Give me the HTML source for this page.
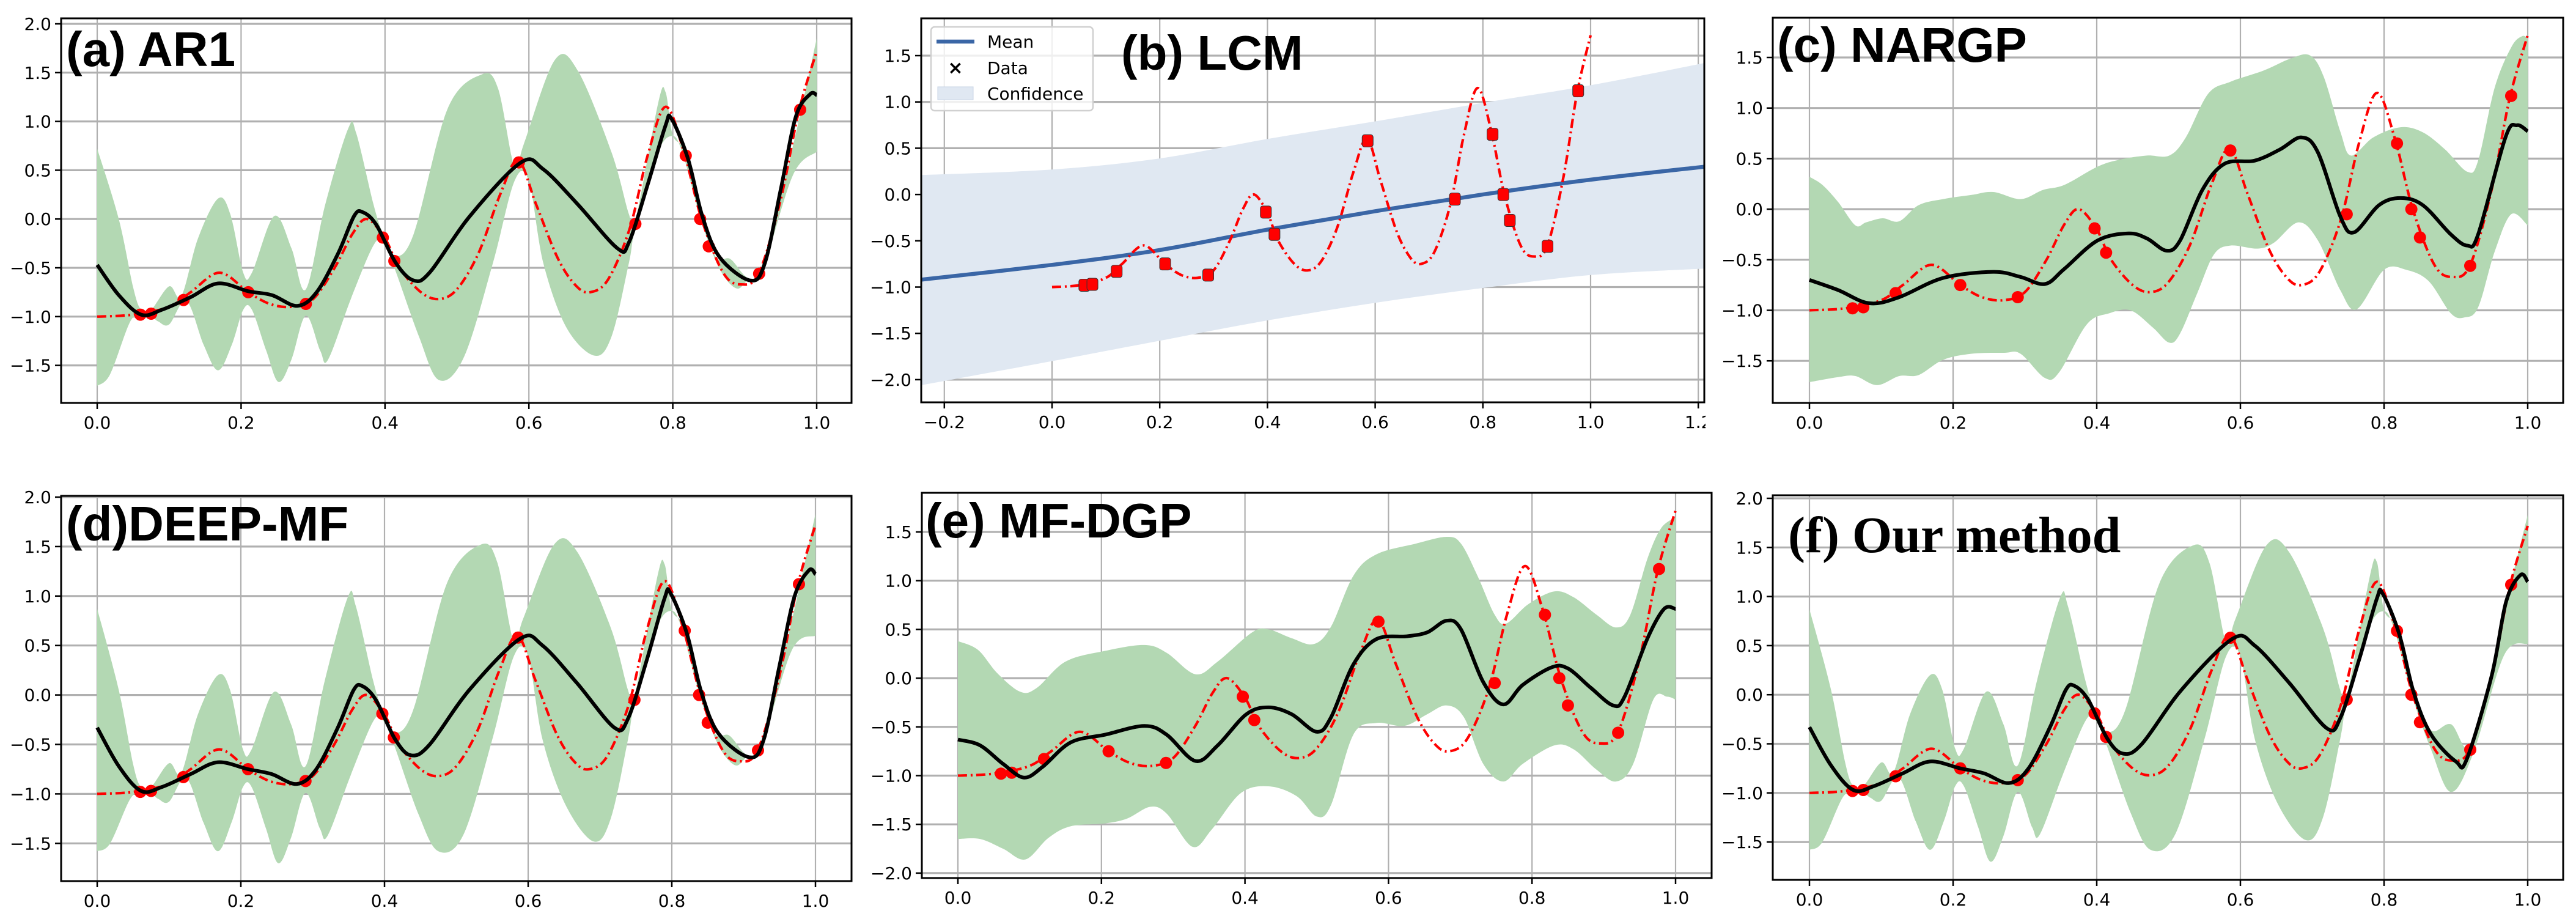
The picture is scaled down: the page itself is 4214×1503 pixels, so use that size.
<!DOCTYPE html>
<html><head><meta charset="utf-8"><style>
html,body{margin:0;padding:0;background:#fff;}
svg{display:block;}
text{font-family:"DejaVu Sans","Liberation Sans",sans-serif;}
</style></head><body>
<svg id="fig" width="4214" height="1503" viewBox="0 0 4214 1503" xmlns="http://www.w3.org/2000/svg"></svg>
<script>
// ---------- shared data ----------
const trueCurve = [[0,-1.0],[0.05,-0.98],[0.1,-0.9],[0.13,-0.75],[0.17,-0.55],[0.21,-0.75],[0.24,-0.87],[0.27,-0.9],[0.3,-0.82],[0.33,-0.5],[0.355,-0.15],[0.375,0.0],[0.4,-0.2],[0.42,-0.5],[0.45,-0.75],[0.475,-0.82],[0.5,-0.72],[0.53,-0.35],[0.56,0.25],[0.585,0.6],[0.61,0.15],[0.64,-0.4],[0.665,-0.68],[0.685,-0.75],[0.71,-0.62],[0.74,-0.1],[0.765,0.65],[0.79,1.15],[0.815,0.7],[0.84,0.0],[0.87,-0.55],[0.895,-0.67],[0.92,-0.55],[0.95,0.2],[0.975,1.1],[1.0,1.72]];
const dataX = [0.06,0.075,0.12,0.21,0.29,0.397,0.413,0.586,0.748,0.818,0.838,0.85,0.92,0.977];
const dataY = [-0.98,-0.97,-0.83,-0.75,-0.87,-0.19,-0.43,0.58,-0.05,0.65,0.0,-0.28,-0.56,1.12];
const xTicks01 = [0,0.2,0.4,0.6,0.8,1.0];
const xTickLabels01 = ["0.0","0.2","0.4","0.6","0.8","1.0"];
const xTicksB = [-0.2,0,0.2,0.4,0.6,0.8,1.0,1.2];
const xTickLabelsB = ["−0.2","0.0","0.2","0.4","0.6","0.8","1.0","1.2"];
const yTicksA = [2.0,1.5,1.0,0.5,0.0,-0.5,-1.0,-1.5];
const yTickLabelsA = ["2.0","1.5","1.0","0.5","0.0","−0.5","−1.0","−1.5"];
const yTicksB = [1.5,1.0,0.5,0.0,-0.5,-1.0,-1.5,-2.0];
const yTickLabelsB = ["1.5","1.0","0.5","0.0","−0.5","−1.0","−1.5","−2.0"];
const yTicksC = [1.5,1.0,0.5,0.0,-0.5,-1.0,-1.5];
const yTickLabelsC = ["1.5","1.0","0.5","0.0","−0.5","−1.0","−1.5"];

// ---------- panel (a) AR1 ----------
const aMean = [[0,-0.47],[0.03,-0.78],[0.061,-0.98],[0.09,-0.93],[0.13,-0.8],[0.168,-0.66],[0.21,-0.74],[0.243,-0.78],[0.278,-0.89],[0.305,-0.75],[0.335,-0.35],[0.357,0.03],[0.369,0.07],[0.388,-0.06],[0.415,-0.45],[0.44,-0.63],[0.463,-0.54],[0.518,0.03],[0.589,0.58],[0.62,0.51],[0.668,0.15],[0.723,-0.30],[0.739,-0.24],[0.765,0.35],[0.79,0.96],[0.798,1.03],[0.821,0.62],[0.841,0.03],[0.865,-0.39],[0.908,-0.63],[0.928,-0.45],[0.95,0.3],[0.971,1.05],[0.991,1.28],[1.0,1.27]];
const aUpper = [[0,0.72],[0.03,0.0],[0.05,-0.7],[0.061,-0.93],[0.075,-0.93],[0.10,-0.69],[0.117,-0.79],[0.14,-0.2],[0.168,0.21],[0.185,0.05],[0.203,-0.55],[0.215,-0.55],[0.246,0.03],[0.27,-0.30],[0.29,-0.72],[0.317,0.15],[0.349,0.93],[0.36,0.88],[0.384,0.15],[0.397,-0.15],[0.413,-0.38],[0.44,-0.15],[0.487,1.13],[0.534,1.48],[0.557,1.34],[0.58,0.53],[0.593,0.77],[0.636,1.63],[0.668,1.52],[0.715,0.68],[0.739,0.05],[0.748,-0.02],[0.78,1.2],[0.79,1.30],[0.80,0.86],[0.818,0.68],[0.84,0.03],[0.86,-0.39],[0.88,-0.41],[0.904,-0.6],[0.924,-0.51],[0.967,0.75],[1.0,1.85]];
const aLower = [[0,-1.71],[0.018,-1.59],[0.046,-1.05],[0.061,-1.0],[0.075,-1.0],[0.085,-1.05],[0.10,-1.08],[0.124,-0.84],[0.148,-1.29],[0.168,-1.55],[0.187,-1.29],[0.203,-0.93],[0.215,-0.93],[0.235,-1.35],[0.252,-1.67],[0.27,-1.44],[0.29,-0.99],[0.31,-1.35],[0.321,-1.44],[0.353,-0.81],[0.384,-0.27],[0.397,-0.25],[0.413,-0.5],[0.447,-1.2],[0.475,-1.65],[0.51,-1.41],[0.55,-0.45],[0.58,0.39],[0.60,0.39],[0.62,-0.45],[0.652,-1.11],[0.691,-1.40],[0.715,-1.20],[0.739,-0.45],[0.748,-0.09],[0.778,0.66],[0.798,0.85],[0.813,0.69],[0.84,-0.03],[0.865,-0.51],[0.888,-0.71],[0.904,-0.63],[0.924,-0.54],[0.967,0.45],[1.0,0.69]];

// ---------- panel (b) LCM ----------
const bMean = [[-0.243,-0.92],[0,-0.76],[0.2,-0.60],[0.4,-0.38],[0.6,-0.18],[0.8,0.0],[1.0,0.16],[1.211,0.30]];
const bUpper = [[-0.243,0.21],[0,0.27],[0.2,0.39],[0.4,0.60],[0.6,0.79],[0.8,0.99],[1.0,1.18],[1.211,1.42]];
const bLower = [[-0.243,-2.06],[0,-1.80],[0.2,-1.58],[0.4,-1.36],[0.6,-1.17],[0.8,-1.01],[1.0,-0.87],[1.211,-0.80]];

// ---------- panel (c) NARGP ----------
const cMean = [[0,-0.70],[0.04,-0.80],[0.083,-0.93],[0.125,-0.87],[0.186,-0.68],[0.256,-0.62],[0.294,-0.67],[0.328,-0.74],[0.355,-0.59],[0.401,-0.31],[0.444,-0.24],[0.47,-0.29],[0.497,-0.41],[0.516,-0.31],[0.547,0.19],[0.578,0.45],[0.62,0.48],[0.655,0.59],[0.685,0.71],[0.708,0.56],[0.739,-0.07],[0.758,-0.23],[0.793,0.04],[0.823,0.11],[0.854,0.04],[0.893,-0.25],[0.916,-0.36],[0.931,-0.25],[0.969,0.71],[0.985,0.83],[1.0,0.77]];
const cUpper = [[0,0.32],[0.018,0.24],[0.04,0.07],[0.064,-0.16],[0.079,-0.13],[0.102,-0.09],[0.125,-0.12],[0.152,0.04],[0.186,0.10],[0.225,0.14],[0.256,0.17],[0.294,0.10],[0.325,0.19],[0.355,0.24],[0.401,0.42],[0.432,0.49],[0.47,0.53],[0.501,0.53],[0.524,0.71],[0.555,1.14],[0.586,1.26],[0.632,1.37],[0.67,1.49],[0.697,1.52],[0.716,1.31],[0.739,0.77],[0.754,0.53],[0.785,0.71],[0.823,0.81],[0.854,0.76],[0.885,0.59],[0.916,0.37],[0.931,0.48],[0.954,1.2],[0.977,1.6],[0.992,1.71],[1.0,1.69]];
const cLower = [[0,-1.71],[0.04,-1.66],[0.064,-1.65],[0.094,-1.74],[0.125,-1.65],[0.152,-1.64],[0.186,-1.49],[0.225,-1.43],[0.271,-1.42],[0.294,-1.43],[0.328,-1.67],[0.348,-1.61],[0.386,-1.14],[0.417,-1.03],[0.447,-1.0],[0.478,-1.17],[0.501,-1.32],[0.516,-1.23],[0.54,-0.83],[0.563,-0.45],[0.586,-0.36],[0.624,-0.39],[0.647,-0.33],[0.681,-0.13],[0.708,-0.31],[0.739,-0.80],[0.762,-0.99],[0.8,-0.60],[0.831,-0.60],[0.862,-0.71],[0.893,-1.03],[0.912,-1.07],[0.931,-0.97],[0.954,-0.42],[0.977,-0.05],[1.0,-0.16]];

// ---------- panel (d) DEEP-MF ----------
const dMean = [[0,-0.33],[0.03,-0.72],[0.061,-0.97],[0.09,-0.93],[0.13,-0.8],[0.168,-0.68],[0.21,-0.75],[0.243,-0.8],[0.278,-0.9],[0.305,-0.75],[0.335,-0.33],[0.357,0.05],[0.369,0.09],[0.388,-0.05],[0.415,-0.45],[0.437,-0.61],[0.463,-0.5],[0.518,0.05],[0.589,0.57],[0.62,0.5],[0.668,0.12],[0.72,-0.33],[0.739,-0.24],[0.765,0.35],[0.79,0.98],[0.798,1.03],[0.821,0.62],[0.841,0.03],[0.865,-0.39],[0.908,-0.63],[0.928,-0.45],[0.95,0.3],[0.971,1.0],[0.991,1.26],[1.0,1.22]];
const dUpper = [[0,0.87],[0.03,0.05],[0.05,-0.7],[0.061,-0.93],[0.075,-0.93],[0.10,-0.69],[0.117,-0.79],[0.14,-0.2],[0.168,0.2],[0.185,0.05],[0.203,-0.55],[0.215,-0.55],[0.246,0.03],[0.27,-0.30],[0.29,-0.72],[0.317,0.15],[0.349,0.99],[0.36,0.9],[0.384,0.15],[0.397,-0.15],[0.413,-0.38],[0.44,-0.15],[0.487,1.13],[0.534,1.52],[0.557,1.34],[0.58,0.53],[0.593,0.77],[0.636,1.52],[0.668,1.45],[0.715,0.68],[0.739,0.05],[0.748,-0.02],[0.78,1.2],[0.79,1.32],[0.80,0.86],[0.818,0.68],[0.84,0.03],[0.86,-0.39],[0.88,-0.41],[0.904,-0.6],[0.924,-0.51],[0.967,0.75],[1.0,1.83]];
const dLower = [[0,-1.58],[0.018,-1.5],[0.046,-1.05],[0.061,-1.0],[0.075,-1.0],[0.085,-1.05],[0.10,-1.08],[0.124,-0.84],[0.148,-1.29],[0.168,-1.58],[0.187,-1.29],[0.203,-0.93],[0.215,-0.93],[0.235,-1.35],[0.252,-1.7],[0.27,-1.44],[0.29,-0.99],[0.31,-1.35],[0.321,-1.42],[0.353,-0.81],[0.384,-0.27],[0.397,-0.25],[0.413,-0.5],[0.447,-1.2],[0.475,-1.58],[0.51,-1.41],[0.55,-0.45],[0.58,0.39],[0.60,0.39],[0.62,-0.45],[0.652,-1.11],[0.691,-1.48],[0.715,-1.25],[0.739,-0.45],[0.748,-0.09],[0.778,0.66],[0.798,0.85],[0.813,0.69],[0.84,-0.03],[0.865,-0.51],[0.888,-0.71],[0.904,-0.63],[0.924,-0.54],[0.967,0.45],[1.0,0.6]];

// ---------- panel (e) MF-DGP ----------
const eMean = [[0,-0.63],[0.031,-0.69],[0.063,-0.88],[0.092,-1.02],[0.118,-0.91],[0.157,-0.66],[0.205,-0.58],[0.26,-0.49],[0.291,-0.58],[0.331,-0.85],[0.362,-0.69],[0.402,-0.37],[0.433,-0.30],[0.465,-0.37],[0.5,-0.55],[0.52,-0.40],[0.551,0.14],[0.583,0.40],[0.626,0.43],[0.654,0.47],[0.681,0.59],[0.701,0.50],[0.732,-0.04],[0.76,-0.27],[0.787,-0.07],[0.827,0.11],[0.85,0.10],[0.882,-0.10],[0.913,-0.28],[0.929,-0.19],[0.961,0.41],[0.984,0.71],[1.0,0.71]];
const eUpper = [[0,0.38],[0.028,0.29],[0.055,0.05],[0.087,-0.14],[0.11,-0.10],[0.15,0.17],[0.205,0.28],[0.26,0.34],[0.291,0.26],[0.331,0.04],[0.362,0.17],[0.41,0.47],[0.433,0.50],[0.465,0.41],[0.496,0.35],[0.52,0.53],[0.551,1.05],[0.583,1.27],[0.638,1.38],[0.681,1.45],[0.701,1.38],[0.724,1.05],[0.748,0.65],[0.764,0.56],[0.795,0.76],[0.831,0.89],[0.858,0.83],[0.89,0.65],[0.917,0.52],[0.937,0.65],[0.961,1.23],[0.98,1.54],[1.0,1.65]];
const eLower = [[0,-1.65],[0.031,-1.65],[0.063,-1.75],[0.094,-1.86],[0.126,-1.64],[0.157,-1.52],[0.205,-1.49],[0.236,-1.44],[0.268,-1.32],[0.291,-1.39],[0.327,-1.73],[0.354,-1.55],[0.394,-1.18],[0.433,-1.11],[0.472,-1.21],[0.5,-1.42],[0.52,-1.30],[0.551,-0.58],[0.583,-0.46],[0.622,-0.49],[0.654,-0.37],[0.681,-0.28],[0.705,-0.40],[0.732,-0.88],[0.76,-1.06],[0.787,-0.88],[0.831,-0.69],[0.858,-0.73],[0.89,-0.94],[0.917,-1.06],[0.941,-0.88],[0.969,-0.22],[0.988,-0.19],[1.0,-0.22]];

// ---------- panel (f) Our method ----------
const fMean = [[0,-0.33],[0.03,-0.72],[0.061,-0.97],[0.09,-0.93],[0.13,-0.8],[0.168,-0.68],[0.21,-0.75],[0.243,-0.8],[0.278,-0.9],[0.305,-0.75],[0.335,-0.33],[0.357,0.05],[0.369,0.09],[0.388,-0.05],[0.415,-0.45],[0.437,-0.6],[0.463,-0.5],[0.518,0.05],[0.589,0.57],[0.62,0.5],[0.668,0.12],[0.72,-0.34],[0.739,-0.24],[0.765,0.35],[0.79,0.98],[0.798,1.03],[0.821,0.62],[0.841,0.03],[0.865,-0.4],[0.9,-0.68],[0.915,-0.66],[0.95,0.2],[0.97,0.95],[0.99,1.22],[1.0,1.15]];
const fUpper = [[0,0.87],[0.03,0.05],[0.05,-0.7],[0.061,-0.93],[0.075,-0.93],[0.10,-0.69],[0.117,-0.79],[0.14,-0.2],[0.168,0.2],[0.185,0.05],[0.203,-0.55],[0.215,-0.55],[0.246,0.03],[0.27,-0.30],[0.29,-0.72],[0.317,0.15],[0.349,0.99],[0.36,0.9],[0.384,0.15],[0.397,-0.15],[0.413,-0.38],[0.44,-0.15],[0.487,1.13],[0.534,1.52],[0.557,1.34],[0.58,0.53],[0.593,0.77],[0.636,1.52],[0.668,1.45],[0.715,0.68],[0.739,0.05],[0.748,-0.02],[0.78,1.2],[0.79,1.35],[0.80,0.86],[0.818,0.68],[0.84,0.03],[0.865,-0.36],[0.893,-0.30],[0.924,-0.5],[0.967,0.85],[1.0,1.83]];
const fLower = [[0,-1.58],[0.018,-1.5],[0.046,-1.05],[0.061,-1.0],[0.075,-1.0],[0.085,-1.05],[0.10,-1.08],[0.124,-0.84],[0.148,-1.29],[0.168,-1.58],[0.187,-1.29],[0.203,-0.93],[0.215,-0.93],[0.235,-1.35],[0.252,-1.7],[0.27,-1.44],[0.29,-0.99],[0.31,-1.35],[0.321,-1.42],[0.353,-0.81],[0.384,-0.27],[0.397,-0.25],[0.413,-0.5],[0.447,-1.2],[0.475,-1.58],[0.51,-1.41],[0.55,-0.45],[0.58,0.39],[0.60,0.39],[0.62,-0.45],[0.652,-1.11],[0.691,-1.48],[0.715,-1.25],[0.739,-0.45],[0.748,-0.09],[0.778,0.66],[0.798,0.85],[0.813,0.69],[0.84,-0.03],[0.865,-0.55],[0.893,-0.99],[0.924,-0.6],[0.967,0.4],[1.0,0.52]];

// ---------- drawing ----------
const NS = "http://www.w3.org/2000/svg";
const svg = document.getElementById("fig");
function el(tag, attrs, parent){
  const e = document.createElementNS(NS, tag);
  for (const k in attrs) e.setAttribute(k, attrs[k]);
  (parent || svg).appendChild(e);
  return e;
}
function smoothSeg(pts){
  let d = "";
  for (let i = 0; i < pts.length - 1; i++){
    const p0 = pts[i-1] || pts[i], p1 = pts[i], p2 = pts[i+1], p3 = pts[i+2] || pts[i+1];
    const c1x = p1[0] + (p2[0]-p0[0])/6, c1y = p1[1] + (p2[1]-p0[1])/6;
    const c2x = p2[0] - (p3[0]-p1[0])/6, c2y = p2[1] - (p3[1]-p1[1])/6;
    d += ` C${c1x.toFixed(1)},${c1y.toFixed(1)} ${c2x.toFixed(1)},${c2y.toFixed(1)} ${p2[0].toFixed(1)},${p2[1].toFixed(1)}`;
  }
  return d;
}

function panel(cfg){
  const g = el("g", {});
  
  
  const [L,T,R,B] = cfg.box;
  const sx = v => cfg.x0 + (v - 0) * (cfg.x1 - cfg.x0);
  const sy = v => cfg.yRef + (cfg.yRefVal - v) * cfg.yPerUnit;
  const cid = "clip-" + cfg.name;
  const cp = el("clipPath", {id: cid}, g);
  el("rect", {x: L, y: T, width: R-L, height: B-T}, cp);
  const plot = el("g", {"clip-path": `url(#${cid})`}, g);
  
  
  // grid
  cfg.yTicks.forEach(v => {
    const ln = el("line", {x1: L, x2: R, y1: sy(v), y2: sy(v), stroke: "#b0b0b0", "stroke-width": 3.2}, plot);
    
    
  });
  cfg.xTicks.forEach(v => {
    const ln = el("line", {x1: sx(v), x2: sx(v), y1: T, y2: B, stroke: "#b0b0b0", "stroke-width": 2.2}, plot);
    
    
  });
  // band
  const up = cfg.upper.map(p => [sx(p[0]), sy(p[1])]);
  const lo = cfg.lower.map(p => [sx(p[0]), sy(p[1])]).reverse();
  const band = el("path", {d: `M${up[0][0]},${up[0][1]}` + smoothSeg(up) + ` L${lo[0][0]},${lo[0][1]}` + smoothSeg(lo) + " Z", fill: cfg.bandColor, stroke: "none"}, plot);
  
  
  if (cfg.meanBelow){
    const mp = cfg.mean.map(p => [sx(p[0]), sy(p[1])]);
    const m = el("path", {d: `M${mp[0][0]},${mp[0][1]}` + smoothSeg(mp), fill: "none", stroke: cfg.meanColor, "stroke-width": 6.5}, plot);
    
    
  }
  // true function
  const tp = trueCurve.map(p => [sx(p[0]), sy(p[1])]);
  const tr = el("path", {d: `M${tp[0][0]},${tp[0][1]}` + smoothSeg(tp), fill: "none", stroke: "#ff0000", "stroke-width": 4.2, "stroke-dasharray": "15 6 3 6"}, plot);
  
  
  // data points
  dataX.forEach((x, i) => {
    let mk;
    if (cfg.squareMarkers){
      mk = el("rect", {x: sx(x)-9, y: sy(dataY[i])-10, width: 18, height: 20, rx: 4, fill: "#ff0000", stroke: "#333", "stroke-width": 1}, plot);
    } else {
      mk = el("ellipse", {cx: sx(x), cy: sy(dataY[i]), rx: 10, ry: 10, fill: "#ff0000"}, plot);
    }
    
    
  });
  if (!cfg.meanBelow){
    const mp = cfg.mean.map(p => [sx(p[0]), sy(p[1])]);
    const m = el("path", {d: `M${mp[0][0]},${mp[0][1]}` + smoothSeg(mp), fill: "none", stroke: cfg.meanColor, "stroke-width": 6, "stroke-linejoin": "round"}, plot);
    
    
  }
  // spines
  const sp = el("rect", {x: L, y: T, width: R-L, height: B-T, fill: "none", stroke: "#000", "stroke-width": 3}, g);
  
  
  // ticks
  const tclip = "tclip-" + cfg.name;
  const tcp = el("clipPath", {id: tclip}, g);
  el("rect", {x: L-120, y: 0, width: (cfg.labelClipR || R+60) - (L-120), height: 1503}, tcp);
  const tg = el("g", {"clip-path": `url(#${tclip})`}, g);
  cfg.yTicks.forEach((v, i) => {
    const y = sy(v);
    const tk = el("line", {x1: L-10, x2: L, y1: y, y2: y, stroke: "#000", "stroke-width": 2.5}, g);
    
    
    const t = el("text", {x: L-16, y: y+10, "text-anchor": "end", "font-size": 28, fill: "#000"}, g);
    t.textContent = cfg.yTickLabels[i];
    
    
  });
  cfg.xTicks.forEach((v, i) => {
    const x = sx(v);
    const tk = el("line", {x1: x, x2: x, y1: B, y2: B+10, stroke: "#000", "stroke-width": 2.5}, tg);
    
    
    const t = el("text", {x: x, y: B+42, "text-anchor": "middle", "font-size": 28, fill: "#000"}, tg);
    t.textContent = cfg.xTickLabels[i];
    
    
  });
  // title
  const tt = el("text", {x: cfg.titleX, y: cfg.titleY, "font-size": cfg.titleSize, "font-weight": "bold", fill: "#000", style: `font-family:${cfg.titleFont}`}, g);
  tt.textContent = cfg.title;
  
  
  return g;
}

const SANS = '"Liberation Sans", Arial, sans-serif';
const GREEN = "#b3d8b3";

panel({name:"panel-a-ar1", box:[100,30,1393,659], x0:159, x1:1336, yRef:39, yRefVal:2.0, yPerUnit:159.6,
  xTicks:xTicks01, xTickLabels:xTickLabels01, yTicks:yTicksA, yTickLabels:yTickLabelsA,
  mean:aMean, upper:aUpper, lower:aLower, bandColor:GREEN, meanColor:"#000",
  title:"(a) AR1", titleX:108, titleY:108, titleSize:80, titleFont:SANS});

panel({name:"panel-b-lcm", box:[1507,30,2788,658], x0:1721, x1:2602, yRef:91, yRefVal:1.5, yPerUnit:151.4,
  xTicks:xTicksB, xTickLabels:xTickLabelsB, yTicks:yTicksB, yTickLabels:yTickLabelsB, labelClipR:2790,
  mean:bMean, upper:bUpper, lower:bLower, bandColor:"#e0e8f2", meanColor:"#3a66a6", meanBelow:true, squareMarkers:true,
  title:"(b) LCM", titleX:1834, titleY:114, titleSize:80, titleFont:SANS});

panel({name:"panel-c-nargp", box:[2900,29,4193,659], x0:2960, x1:4135, yRef:94, yRefVal:1.5, yPerUnit:165.4,
  xTicks:xTicks01, xTickLabels:xTickLabels01, yTicks:yTicksC, yTickLabels:yTickLabelsC,
  mean:cMean, upper:cUpper, lower:cLower, bandColor:GREEN, meanColor:"#000",
  title:"(c) NARGP", titleX:2907, titleY:101, titleSize:80, titleFont:SANS});

panel({name:"panel-d-deep-mf", box:[100,811,1393,1441], x0:159, x1:1334, yRef:813, yRefVal:2.0, yPerUnit:161.8,
  xTicks:xTicks01, xTickLabels:xTickLabels01, yTicks:yTicksA, yTickLabels:yTickLabelsA,
  mean:dMean, upper:dUpper, lower:dLower, bandColor:GREEN, meanColor:"#000",
  title:"(d)DEEP-MF", titleX:108, titleY:884, titleSize:80, titleFont:SANS});

panel({name:"panel-e-mf-dgp", box:[1508,806,2800,1436], x0:1567, x1:2741, yRef:870, yRefVal:1.5, yPerUnit:159.4,
  xTicks:xTicks01, xTickLabels:xTickLabels01, yTicks:yTicksB, yTickLabels:yTickLabelsB,
  mean:eMean, upper:eUpper, lower:eLower, bandColor:GREEN, meanColor:"#000",
  title:"(e) MF-DGP", titleX:1514, titleY:879, titleSize:80, titleFont:SANS});

panel({name:"panel-f-our-method", box:[2900,810,4193,1439], x0:2960, x1:4135, yRef:815, yRefVal:2.0, yPerUnit:160.6,
  xTicks:xTicks01, xTickLabels:xTickLabels01, yTicks:yTicksA, yTickLabels:yTickLabelsA,
  mean:fMean, upper:fUpper, lower:fLower, bandColor:GREEN, meanColor:"#000",
  title:"(f) Our method", titleX:2925, titleY:903, titleSize:84, titleFont:'"Liberation Serif", "DejaVu Serif", serif'});

// legend for panel b
const lg = el("g", {});


const lbox = el("rect", {x:1523, y:44, width:265, height:137, rx:6, fill:"#fff", "fill-opacity":0.8, stroke:"#d0d0d0", "stroke-width":2.5}, lg);


const l1 = el("line", {x1:1532, x2:1594, y1:68, y2:68, stroke:"#3a66a6", "stroke-width":6.5}, lg);


const t1 = el("text", {x:1615, y:78, "font-size":28}, lg); t1.textContent = "Mean";


const x2 = el("text", {x:1563, y:121, "font-size":30, "font-weight":"bold", "text-anchor":"middle"}, lg); x2.textContent = "×";


const t2 = el("text", {x:1615, y:121, "font-size":28}, lg); t2.textContent = "Data";


const r3 = el("rect", {x:1534, y:142, width:58, height:21, fill:"#e0e8f2", stroke:"#c8d4e6", "stroke-width":1}, lg);


const t3 = el("text", {x:1615, y:163, "font-size":28}, lg); t3.textContent = "Confidence";


</script>
</body></html>
